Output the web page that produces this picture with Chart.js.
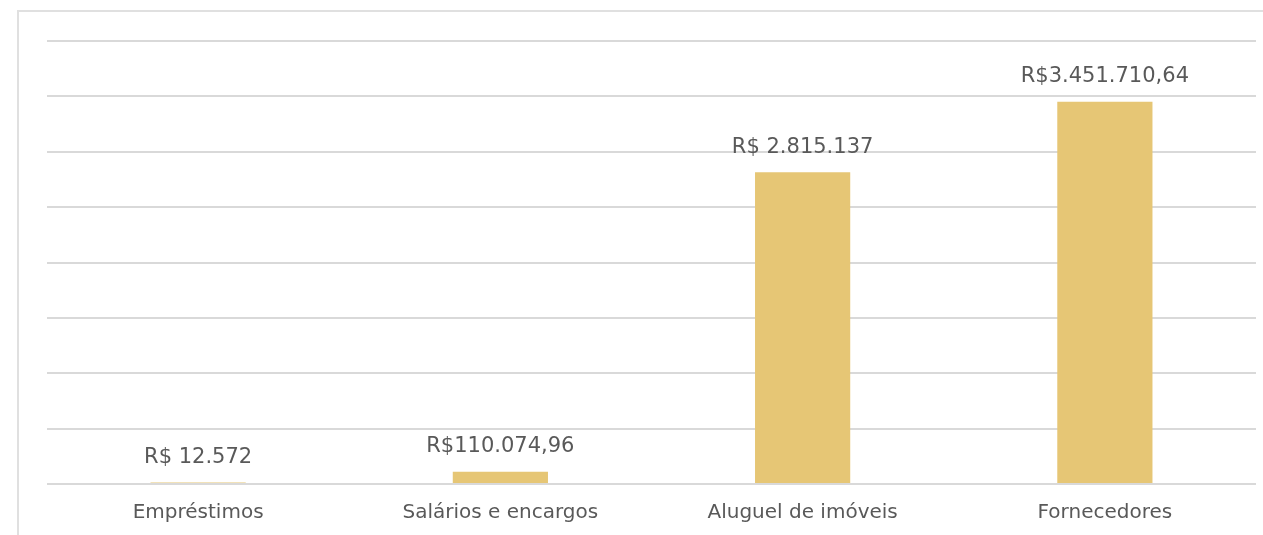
<!DOCTYPE html>
<html>
<head>
<meta charset="utf-8">
<script src="https://cdn.jsdelivr.net/npm/chart.js@4"></script>
<style>
  html, body { margin: 0; padding: 0; background: #fff; overflow: hidden; }
  #frame {
    position: absolute; left: 17px; top: 10px;
    width: 1400px; height: 700px;
    border-top: 2px solid #e0e0e0; border-left: 2px solid #e0e0e0;
  }
  #wrap { position: absolute; left: 0; top: 0; width: 1263px; height: 535px; }
</style>
</head>
<body>
<div id="frame"></div>
<div id="wrap"><canvas id="chart"></canvas></div>
<script>
// chart data
const categories = ["Empréstimos", "Salários e encargos", "Aluguel de imóveis", "Fornecedores"];
const values = [12572, 110074.96, 2815137, 3451710.64];
const valueLabels = ["R$ 12.572", "R$110.074,96", "R$ 2.815.137", "R$3.451.710,64"];

const textColor = "#595959";
const gridColor = "#d9d9d9";
const barColor = "#e6c675";

// draws the value text above every bar
const valueLabelPlugin = {
  id: "valueLabels",
  afterDatasetsDraw(chart) {
    const ctx = chart.ctx;
    const meta = chart.getDatasetMeta(0);
    ctx.save();
    ctx.font = "21px 'DejaVu Sans'";
    ctx.fillStyle = textColor;
    ctx.textAlign = "center";
    ctx.textBaseline = "middle";
    meta.data.forEach((bar, i) => {
      ctx.fillText(valueLabels[i], bar.x, bar.y - 25);
    });
    ctx.restore();
  }
};

new Chart(document.getElementById("chart"), {
  type: "bar",
  data: {
    labels: categories,
    datasets: [{
      data: values,
      backgroundColor: barColor,
      borderWidth: 0,
      barPercentage: 0.315,
      categoryPercentage: 1
    }]
  },
  options: {
    responsive: true,
    maintainAspectRatio: false,
    animation: false,
    layout: { padding: { top: 41, left: 47, right: 7, bottom: -7 } },
    plugins: {
      legend: { display: false },
      tooltip: { enabled: false }
    },
    scales: {
      x: {
        grid: { display: false, drawTicks: false },
        border: { display: false },
        ticks: {
          color: textColor,
          font: { family: "DejaVu Sans", size: 20 },
          padding: 17,
          maxRotation: 0
        }
      },
      y: {
        min: 0,
        max: 4000000,
        ticks: { display: false, stepSize: 500000 },
        grid: { color: gridColor, lineWidth: 2, drawTicks: false },
        border: { display: false }
      }
    }
  },
  plugins: [valueLabelPlugin]
});
</script>
</body>
</html>
